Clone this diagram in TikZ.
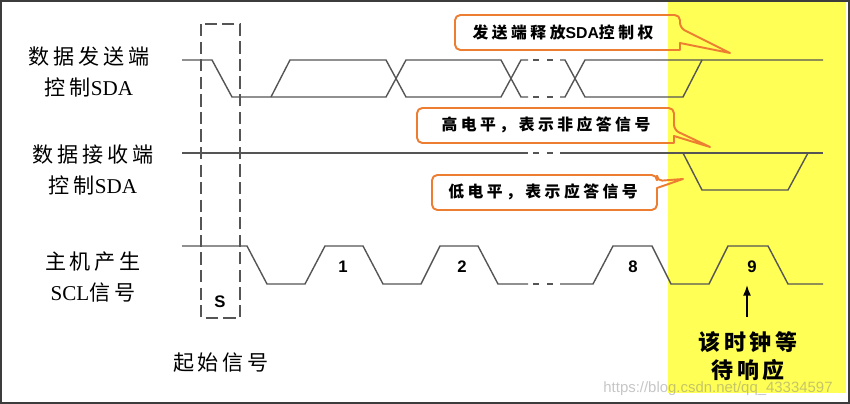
\documentclass[tikz,border=0pt]{standalone}
\usepackage{fontspec}
\setmainfont{Liberation Serif}
\setsansfont{Liberation Sans}
\newfontfamily\cjk[LetterSpace=18]{Noto Sans CJK SC}
\newfontfamily\cjkwide[LetterSpace=22]{Noto Sans CJK SC}
\usetikzlibrary{arrows.meta}

\definecolor{wavegray}{RGB}{85,85,85}
\definecolor{calloutorange}{RGB}{237,125,49}
\definecolor{ackyellow}{RGB}{255,255,85}
\definecolor{framegray}{RGB}{60,60,60}

\tikzset{
	wave/.style={draw=wavegray, line width=0.8pt},
	gapdash/.style={wave, dash pattern=on 0pt off 3pt on 3.5pt off 4.5pt on 3.5pt off 4pt},
	sbox/.style={draw=wavegray, line width=0.8pt, dash pattern=on 7pt off 3pt},
	callout/.style={draw=calloutorange, line width=1.1pt, line join=round},
	sidelabel/.style={font=\cjk\fontsize{12}{17.5}\selectfont, align=center, inner sep=0pt},
	notelabel/.style={font=\cjkwide\bfseries\fontsize{9}{11}\selectfont, inner sep=0pt},
	bitlabel/.style={font=\sffamily\bfseries\fontsize{9.5}{11}\selectfont, inner sep=0pt},
}

\begin{document}
\begin{tikzpicture}[x=0.02cm, y=-0.02cm]
	\useasboundingbox (0,0) rectangle (850,404);

	% window of the ninth clock
	\fill [ackyellow] (668,2) rectangle (846,393);
	\draw [framegray, line width=1.2pt] (1,1) rectangle (849,403);

	% start condition
	\draw [sbox] (201,24) rectangle (240,318);
	\node [bitlabel] (sbit) at (220,302) {S};

	% SDA driven by the sender
	\draw [wave] (182,60) -- (212,60) -- (232,97) -- (386,97) -- (406,60)
		-- (501,60) -- (521,97) -- (528,97);
	\draw [wave] (271,97) -- (290,60) -- (386,60) -- (406,97)
		-- (501,97) -- (521,60) -- (528,60);
	\draw [gapdash] (528,60) -- (560,60);
	\draw [gapdash] (528,97) -- (560,97);
	\draw [wave] (560,60) -- (565,60) -- (585,97) -- (683,97) -- (702,60);
	\draw [wave] (560,97) -- (565,97) -- (585,60) -- (823,60);

	% SDA driven by the receiver
	\draw [wave] (182,153) -- (528,153);
	\draw [gapdash] (528,153) -- (560,153);
	\draw [wave] (560,153) -- (823,153);
	\draw [wave] (683,153) -- (702,190) -- (788,190) -- (808,153);

	% SCL from the master
	\draw [wave] (182,246) -- (247,246) -- (267,284) -- (305,284)
		-- (325,246) -- (363,246) -- (383,284) -- (421,284)
		-- (440,246) -- (478,246) -- (498,284) -- (528,284);
	\draw [gapdash] (528,284) -- (560,284);
	\draw [wave] (560,284) -- (593,284) -- (613,246) -- (652,246) -- (671,284)
		-- (709,284) -- (728,246) -- (768,246) -- (788,284) -- (823,284);

	\node [bitlabel] (bit1) at (343,267) {1};
	\node [bitlabel] (bit2) at (462,267) {2};
	\node [bitlabel] (bit8) at (633,267) {8};
	\node [bitlabel] (bit9) at (752,267) {9};

	% names of the lines
	\node [sidelabel] (sender) at (89,72) {数据发送端\\控制{\rmfamily SDA}};
	\node [sidelabel] (receiver) at (93,170) {数据接收端\\控制{\rmfamily SDA}};
	\node [sidelabel] (master) at (93,277) {主机产生\\{\rmfamily SCL}信号};
	\node [sidelabel] (startnote) at (221,363) {起始信号};

	% callouts
	\node [notelabel] (release) at (563,33) {发送端释放{\sffamily\bfseries SDA}控制权};
	\draw [callout] (455,32) [rounded corners=3pt] -- (455,15) -- (680,15) -- (680,28)
		[sharp corners] -- (730,53) -- (680,43) -- (680,50)
		[rounded corners=3pt] -- (455,50) -- cycle;

	\node [notelabel] (nack) at (546,125) {高电平，表示非应答信号};
	\draw [callout] (417,125) [rounded corners=3pt] -- (417,108) -- (674,108) -- (674,130)
		[sharp corners] -- (710,147) -- (674,136) -- (674,143)
		[rounded corners=3pt] -- (417,143) -- cycle;

	\node [notelabel] (ack) at (543,192) {低电平，表示应答信号};
	\draw [callout] (432,192) [rounded corners=3pt] -- (432,175) -- (657,175) -- (657,181)
		[sharp corners] -- (683,179) -- (657,188)
		[rounded corners=3pt] -- (657,210) -- (432,210) -- cycle;

	% the clock that waits for the answer
	\node [sidelabel, font=\cjk\bfseries\fontsize{12.5}{16}\selectfont] (waitnote) at (748,356) {该时钟等\\待响应};
	\coordinate (arrowtail) at (747,317);
	\coordinate (arrowtip) at (747,285);
	\draw [black, line width=0.9pt, -{Latex[length=6pt,width=4.5pt]}] (arrowtail) -- (arrowtip);

	\node [font=\sffamily\fontsize{8.5}{10}\selectfont, text=gray, opacity=0.45, inner sep=0pt] (watermark) at (718,389) {https://blog.csdn.net/qq\_43334597};
\end{tikzpicture}
\end{document}
